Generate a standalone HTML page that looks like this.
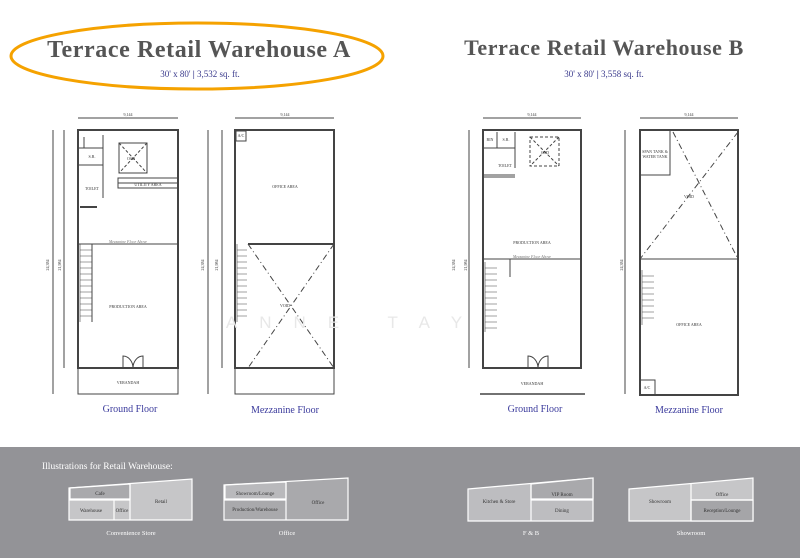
<!DOCTYPE html>
<html><head><meta charset="utf-8"><style>
html,body{margin:0;padding:0;background:#fff;}
svg{display:block;}
</style></head><body>
<svg width="800" height="558" viewBox="0 0 800 558" xmlns="http://www.w3.org/2000/svg" font-family="Liberation Serif, serif">
<rect width="800" height="558" fill="#fff"/>
<!-- Titles -->
<ellipse cx="197" cy="56" rx="186" ry="33" fill="none" stroke="#f5a200" stroke-width="3"/>
<text x="199" y="57" text-anchor="middle" font-size="24" font-weight="bold" fill="#555" letter-spacing="0.6">Terrace Retail Warehouse A</text>
<text x="200" y="77" text-anchor="middle" font-size="9" fill="#3a3a8c">30' x 80'  <tspan fill="#3a3a8c" font-weight="bold">|</tspan>  3,532 sq. ft.</text>
<text x="604" y="55" text-anchor="middle" font-size="22" font-weight="bold" fill="#555" letter-spacing="0.6">Terrace Retail Warehouse B</text>
<text x="604" y="77" text-anchor="middle" font-size="9" fill="#3a3a8c">30' x 80'  <tspan font-weight="bold">|</tspan>  3,558 sq. ft.</text>

<g fill="none" stroke="#444" stroke-width="1">
<!-- Ground A -->
<line x1="78" y1="118" x2="178" y2="118"/><text x="128" y="116" font-size="4" fill="#333" stroke="none" text-anchor="middle">9,144</text>
<line x1="64" y1="130" x2="64" y2="368"/><line x1="53" y1="130" x2="53" y2="394"/>
<rect x="78" y="130" width="100" height="238" stroke-width="2"/>
<rect x="78" y="368" width="100" height="26"/>
<rect x="119" y="143" width="28" height="30"/><line x1="119" y1="143" x2="147" y2="173" stroke-dasharray="3,2"/><line x1="147" y1="143" x2="119" y2="173" stroke-dasharray="3,2"/>
<rect x="118" y="178" width="60" height="10"/><line x1="118" y1="183" x2="178" y2="183"/>
<line x1="78" y1="148" x2="103" y2="148"/><line x1="103" y1="135" x2="103" y2="198"/><line x1="78" y1="165" x2="103" y2="165"/>
<line x1="84" y1="137" x2="84" y2="148"/><line x1="80" y1="207" x2="97" y2="207" stroke-width="2"/>
<line x1="78" y1="244" x2="178" y2="244"/><line x1="92" y1="244" x2="92" y2="322"/>
<path d="M80 244 v78 M80 250h12 M80 256h12 M80 262h12 M80 268h12 M80 274h12 M80 280h12 M80 286h12 M80 292h12 M80 298h12 M80 304h12 M80 310h12 M80 316h12" stroke-width="0.6"/>
<path d="M123 368 v-12 a10 12 0 0 1 10 12 M143 368 v-12 a10 12 0 0 0 -10 12"/>
<!-- Mezz A -->
<line x1="235" y1="118" x2="334" y2="118"/><text x="285" y="116" font-size="4" fill="#333" stroke="none" text-anchor="middle">9,144</text>
<line x1="222" y1="130" x2="222" y2="368"/><line x1="208" y1="130" x2="208" y2="394"/>
<rect x="235" y="130" width="99" height="238" stroke-width="2"/>
<rect x="235" y="368" width="99" height="26"/>
<line x1="248" y1="244" x2="334" y2="244" stroke-width="2"/>
<line x1="248" y1="244" x2="334" y2="368" stroke-dasharray="6,3,1,3"/><line x1="334" y1="244" x2="248" y2="368" stroke-dasharray="6,3,1,3"/>
<path d="M237 244 v78 M237 250h10 M237 256h10 M237 262h10 M237 268h10 M237 274h10 M237 280h10 M237 286h10 M237 292h10 M237 298h10 M237 304h10 M237 310h10 M237 316h10" stroke-width="0.6"/>
<rect x="236" y="131" width="10" height="10"/>
<!-- Ground B -->
<line x1="483" y1="118" x2="581" y2="118"/><text x="532" y="116" font-size="4" fill="#333" stroke="none" text-anchor="middle">9,144</text>
<line x1="469" y1="130" x2="469" y2="368"/>
<rect x="483" y="130" width="98" height="238" stroke-width="2"/>
<line x1="480" y1="394" x2="585" y2="394" stroke-width="1.5"/>
<rect x="530" y="137" width="29" height="29" stroke-dasharray="3,2"/><line x1="530" y1="137" x2="559" y2="166" stroke-dasharray="3,2"/><line x1="559" y1="137" x2="530" y2="166" stroke-dasharray="3,2"/>
<line x1="483" y1="148" x2="515" y2="148"/><line x1="497" y1="132" x2="497" y2="148"/><line x1="515" y1="132" x2="515" y2="168"/>
<line x1="483" y1="175" x2="515" y2="175"/><line x1="483" y1="177" x2="515" y2="177"/>
<line x1="483" y1="259" x2="581" y2="259"/><line x1="510" y1="259" x2="510" y2="277"/>
<path d="M485 262 v70 M485 268h12 M485 274h12 M485 280h12 M485 286h12 M485 292h12 M485 298h12 M485 304h12 M485 310h12 M485 316h12 M485 322h12 M485 328h12" stroke-width="0.6"/>
<path d="M528 368 v-12 a10 12 0 0 1 10 12 M548 368 v-12 a10 12 0 0 0 -10 12"/>
<!-- Mezz B -->
<line x1="640" y1="118" x2="738" y2="118"/><text x="689" y="116" font-size="4" fill="#333" stroke="none" text-anchor="middle">9,144</text>
<line x1="625" y1="130" x2="625" y2="394"/>
<rect x="640" y="130" width="98" height="265" stroke-width="2"/>
<rect x="640" y="130" width="30" height="45"/>
<line x1="640" y1="259" x2="738" y2="259"/>
<line x1="673" y1="132" x2="738" y2="259" stroke-dasharray="6,3,1,3"/><line x1="738" y1="132" x2="640" y2="259" stroke-dasharray="6,3,1,3"/>
<path d="M642 270 v55 M642 276h12 M642 282h12 M642 288h12 M642 294h12 M642 300h12 M642 306h12 M642 312h12 M642 318h12" stroke-width="0.6"/>
<rect x="640" y="380" width="15" height="15"/>
</g>
<g font-size="4" fill="#333" text-anchor="middle">
<text x="131" y="160">OSD</text><text x="92" y="158">S.R.</text><text x="92" y="190">TOILET</text><text x="148" y="186">UTILITY AREA</text>
<text x="128" y="243" font-style="italic" fill="#777">Mezzanine Floor Above</text>
<text x="128" y="308">PRODUCTION AREA</text><text x="128" y="384">VERANDAH</text>
<text x="285" y="188">OFFICE AREA</text><text x="285" y="307">VOID</text><text x="241" y="137">A/C</text>
<text x="545" y="154">OSD</text><text x="490" y="141">BIN</text><text x="506" y="141">S.R.</text><text x="505" y="167">TOILET</text>
<text x="532" y="244">PRODUCTION AREA</text><text x="532" y="258" font-style="italic" fill="#777">Mezzanine Floor Above</text><text x="532" y="385">VERANDAH</text>
<text x="655" y="153">SPAN TANK &amp;</text><text x="655" y="158">WATER TANK</text><text x="689" y="198">VOID</text><text x="689" y="326">OFFICE AREA</text><text x="647" y="389">A/C</text>
</g>
<g font-size="4" fill="#333">
<text transform="translate(49,265) rotate(-90)" text-anchor="middle">24,384</text>
<text transform="translate(61,265) rotate(-90)" text-anchor="middle">21,984</text>
<text transform="translate(204,265) rotate(-90)" text-anchor="middle">24,384</text>
<text transform="translate(218,265) rotate(-90)" text-anchor="middle">21,984</text>
<text transform="translate(455,265) rotate(-90)" text-anchor="middle">24,384</text>
<text transform="translate(467,265) rotate(-90)" text-anchor="middle">21,984</text>
<text transform="translate(623,265) rotate(-90)" text-anchor="middle">24,384</text>
</g>
<text x="355" y="328" text-anchor="middle" font-family="Liberation Sans, sans-serif" font-size="17" fill="#e8e8e8" letter-spacing="22">ANNE TAY</text>
<g font-size="10" fill="#3a3a9c" text-anchor="middle">
<text x="130" y="412">Ground Floor</text><text x="285" y="413">Mezzanine Floor</text>
<text x="535" y="412">Ground Floor</text><text x="689" y="413">Mezzanine Floor</text>
</g>
<!-- Bottom band -->
<rect x="0" y="447" width="800" height="111" fill="#939397"/>
<text x="42" y="469" font-size="9.5" fill="#fff">Illustrations for Retail Warehouse:</text>
<g stroke="#fff" stroke-width="1.2" font-size="5" text-anchor="middle" fill="#333">
<polygon points="69,488 192,479 192,520 69,520" fill="#c6c6c8"/>
<polygon points="70,488 130,484 130,499 70,499" fill="#a9a9ac"/><line x1="130" y1="483" x2="130" y2="520"/><line x1="69" y1="500" x2="130" y2="500"/><line x1="114" y1="500" x2="114" y2="520"/>
<text x="100" y="495" stroke="none">Cafe</text><text x="91" y="512" stroke="none">Warehouse</text><text x="122" y="512" stroke="none">Office</text><text x="161" y="503" stroke="none">Retail</text>
<polygon points="224,485 348,478 348,520 224,520" fill="#a9a9ac"/>
<polygon points="225,485 286,482 286,499 225,499" fill="#b9b9bc"/><line x1="286" y1="481" x2="286" y2="520"/><line x1="224" y1="500" x2="286" y2="500"/>
<text x="255" y="495" stroke="none">Showroom/Lounge</text><text x="255" y="511" stroke="none">Production/Warehouse</text><text x="318" y="504" stroke="none">Office</text>
<polygon points="468,489 593,478 593,521 468,521" fill="#bdbdc0"/>
<polygon points="531,484 593,478 593,499 531,499" fill="#a9a9ac"/><line x1="531" y1="484" x2="531" y2="521"/><line x1="531" y1="500" x2="593" y2="500"/>
<text x="499" y="503" stroke="none">Kitchen &amp; Store</text><text x="562" y="496" stroke="none">VIP Room</text><text x="562" y="512" stroke="none">Dining</text>
<polygon points="629,489 753,478 753,521 629,521" fill="#c6c6c8"/>
<polygon points="691,500 753,500 753,521 691,521" fill="#a5a5a8"/><line x1="691" y1="484" x2="691" y2="521"/><line x1="691" y1="500" x2="753" y2="500"/>
<text x="660" y="503" stroke="none">Showroom</text><text x="722" y="496" stroke="none">Office</text><text x="722" y="512" stroke="none">Reception/Lounge</text>
</g>
<g font-size="6.5" fill="#fff" text-anchor="middle">
<text x="131" y="535">Convenience Store</text><text x="287" y="535">Office</text><text x="531" y="535">F &amp; B</text><text x="691" y="535">Showroom</text>
</g>
</svg>
</body></html>
